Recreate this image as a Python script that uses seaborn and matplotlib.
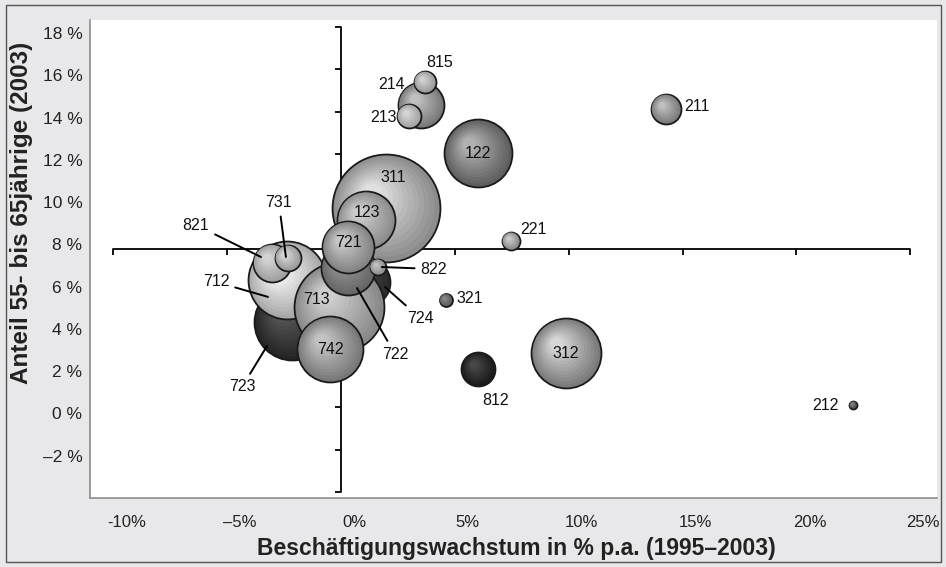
import numpy as np
import pandas as pd
import seaborn as sns
import matplotlib.pyplot as plt
import matplotlib.colors as mcolors
from matplotlib.patches import Rectangle
from matplotlib.transforms import ScaledTranslation

# Bubble data (drawing order: back to front)
codes = ['311', '122', '312', '723', '712', '821', '731', '724', '713', '742', '123',
         '722', '721', '822', '214', '213', '815', '211', '221', '321', '812', '212']
growth = [1.98, 6.02, 9.88, -2.15, -2.37, -3.03, -2.33, 1.10, -0.09, -0.48, 1.10,
          0.31, 0.31, 1.62, 3.51, 2.99, 3.69, 14.27, 7.47, 4.61, 6.02, 22.49]
share_55_65 = [9.43, 12.03, 2.57, 4.04, 6.03, 6.83, 7.07, 5.93, 4.75, 2.76, 8.86,
               6.59, 7.59, 6.64, 14.30, 13.78, 15.39, 14.12, 7.87, 5.08, 1.82, 0.11]
employees = [2916, 1156, 1225, 1444, 1521, 361, 169, 576, 2025, 1089, 841,
             729, 676, 64, 529, 144, 121, 225, 81, 42, 289, 16]

x_ticks = [-10, -5, 0, 5, 10, 15, 20, 25]
x_tick_labels = ['-10%', '\u20135%', '0%', '5%', '10%', '15%', '20%', '25%']
y_ticks = [-2, 0, 2, 4, 6, 8, 10, 12, 14, 16, 18]
y_tick_labels = ['\u20132 %', '0 %', '2 %', '4 %', '6 %', '8 %', '10 %', '12 %',
                 '14 %', '16 %', '18 %']
cross_ticks_y = [-4, -2, 0, 2, 4, 6, 8, 10, 12, 14, 16, 18]
cross_y = 7.5

# styles: (edge shade, highlight shade)
bubble_colors = {
    '311': ('#8c8c8c', '#e8e8e8'), '122': ('#5e5e5e', '#b8b8b8'),
    '312': ('#7a7a7a', '#dedede'), '723': ('#242424', '#5a5a5a'),
    '712': ('#a8a8a8', '#ffffff'), '821': ('#a0a0a0', '#d8d8d8'),
    '731': ('#9a9a9a', '#dcdcdc'), '724': ('#2a2a2a', '#4a4a4a'),
    '713': ('#888888', '#d4d4d4'), '742': ('#787878', '#cacaca'),
    '123': ('#8c8c8c', '#d2d2d2'), '722': ('#666666', '#9c9c9c'),
    '721': ('#838383', '#cecece'), '822': ('#8e8e8e', '#c6c6c6'),
    '214': ('#787878', '#c8c8c8'), '213': ('#a2a2a2', '#dadada'),
    '815': ('#9a9a9a', '#d6d6d6'), '211': ('#7a7a7a', '#c6c6c6'),
    '221': ('#8a8a8a', '#d0d0d0'), '321': ('#5a5a5a', '#8c8c8c'),
    '812': ('#1a1a1a', '#4c4c4c'), '212': ('#444444', '#8c8c8c'),
}
# label offsets in pixels (text centre, optional leader end) relative to bubble centre
label_layout = {
    '815': (15, 20, None), '214': (-29, 21, None), '213': (-26, -1, None),
    '211': (31, 2, None), '122': (0, 0, None), '311': (7, 31, None),
    '123': (1, 8, None), '221': (22, 12, None), '821': (-76, 38, (-11, 6)),
    '731': (-9, 55, (-2, 1)), '721': (0, 4, None), '822': (56, -2, (4, 0)),
    '712': (-71, -2, (-19, -17)), '713': (-22, 7, None), '321': (24, 1, None),
    '724': (54, -36, (19, -5)), '722': (47, -86, (9, -20)), '742': (0, 0, None),
    '723': (-50, -65, (-25, -24)), '312': (0, 0, None), '812': (17, -32, None),
    '212': (-28, 0, None),
}
AREA_PER_UNIT = 2.07  # marker area (pt^2) per employee unit

sns.set_theme(style='white')
plt.rcParams['font.family'] = ['Liberation Sans', 'DejaVu Sans']

fig = plt.figure(figsize=(9.46, 5.67), dpi=100)
fig.patch.set_facecolor('#e8e8ea')
ax = fig.add_axes([90 / 946, 1 - 498 / 567, 847 / 946, 478 / 567])
ax.set_facecolor('white')
ax.set_xlim(-11.02, 26.17)
ax.set_ylim(-4.29, 18.33)


def draw_bubble(x, y, area, edge, centre, n=12):
    # concentric layers give the shaded look of the original bubbles
    r_pt = np.sqrt(area) / 2
    ec = np.array(mcolors.to_rgb(edge))
    cc = np.array(mcolors.to_rgb(centre))
    for k in range(n):
        t = k / n
        f = 1 - 0.88 * t
        col = tuple(ec + (cc - ec) * t)
        shift = r_pt * 0.28 * t
        tr = ax.transData + ScaledTranslation(-shift / 72, shift / 72, fig.dpi_scale_trans)
        sns.scatterplot(x=[x], y=[y], s=area * f * f, color=col,
                        edgecolor='#1a1a1a' if k == 0 else 'none',
                        linewidth=1.3 if k == 0 else 0,
                        transform=tr, ax=ax, legend=False, zorder=3)


# crossing axes inside the plot
ax.plot([x_ticks[0], x_ticks[-1]], [cross_y, cross_y], color='black', lw=1.3, zorder=2)
ax.plot(x_ticks, [cross_y] * len(x_ticks), ls='none', marker=3, ms=4.5, mew=1.3,
        color='black', zorder=2)
ax.plot([0, 0], [cross_ticks_y[0], cross_ticks_y[-1]], color='black', lw=1.3, zorder=2)
ax.plot([0] * len(cross_ticks_y), cross_ticks_y, ls='none', marker=0, ms=4.5, mew=1.3,
        color='black', zorder=2)

df = pd.DataFrame({'code': codes, 'growth': growth, 'share': share_55_65,
                   'employees': employees})

for row in df.itertuples():
    edge, centre = bubble_colors[row.code]
    draw_bubble(row.growth, row.share, row.employees * AREA_PER_UNIT, edge, centre)

for row in df.itertuples():
    tx, ty, lead = label_layout[row.code]
    if lead is None:
        ax.annotate(row.code, xy=(row.growth, row.share), xytext=(tx, ty),
                    textcoords='offset pixels', ha='center', va='center',
                    fontsize=11.5, color='#111111', zorder=10)
    else:
        ex, ey = lead
        anchor = ax.transData + ScaledTranslation(ex / fig.dpi, ey / fig.dpi,
                                                  fig.dpi_scale_trans)
        ax.annotate(row.code, xy=(row.growth, row.share), xycoords=anchor,
                    xytext=(tx - ex, ty - ey), textcoords='offset pixels',
                    ha='center', va='center', fontsize=11.5, color='#111111', zorder=10,
                    arrowprops=dict(arrowstyle='-', color='black', lw=1.4,
                                    shrinkA=2, shrinkB=0))

# outer axes
ax.set_xticks(x_ticks)
ax.set_xticklabels(x_tick_labels, fontsize=12, color='#222222')
ax.set_yticks(y_ticks)
ax.set_yticklabels(y_tick_labels, fontsize=12.5, color='#222222')
ax.tick_params(axis='x', length=0, pad=12.5)
ax.tick_params(axis='y', length=0, pad=5.5)
for lbl in ax.get_xticklabels():
    lbl.set_transform(lbl.get_transform() + ScaledTranslation(0.13, 0, fig.dpi_scale_trans))
for lbl in ax.get_yticklabels():
    lbl.set_transform(lbl.get_transform() + ScaledTranslation(0, -0.06, fig.dpi_scale_trans))

for side in ['top', 'right']:
    ax.spines[side].set_visible(False)
for side in ['left', 'bottom']:
    ax.spines[side].set_color('#8c8c8c')
    ax.spines[side].set_linewidth(1.2)

ax.set_xlabel('Besch\u00e4ftigungswachstum in % p.a. (1995\u20132003)',
              fontsize=16.5, fontweight='bold', color='#222222')
ax.xaxis.set_label_coords((516 - 90) / 847, (498 - 537) / 478)
ax.set_ylabel('Anteil 55- bis 65j\u00e4hrige (2003)', fontsize=17.5,
              fontweight='bold', color='#222222')
ax.yaxis.label.set_va('center')
ax.yaxis.set_label_coords((22 - 90) / 847, (498 - 213) / 478)

fig.add_artist(Rectangle((6 / 946, 5 / 567), 935 / 946, 557 / 567,
                         transform=fig.transFigure, fill=False,
                         edgecolor='#555555', lw=1))

fig.savefig('out.png', dpi=100, facecolor=fig.get_facecolor())
